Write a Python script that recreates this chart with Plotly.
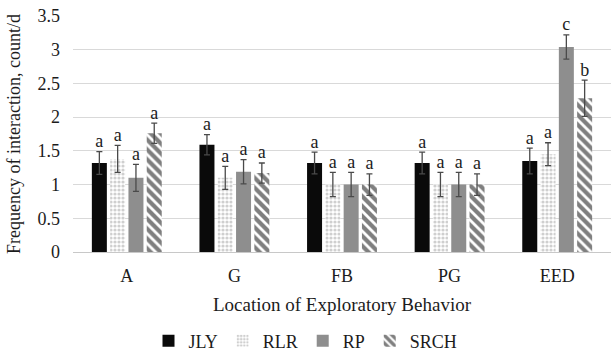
import plotly.graph_objects as go

categories = ["A", "G", "FB", "PG", "EED"]
series_names = ["JLY", "RLR", "RP", "SRCH"]

jly = [1.32, 1.59, 1.32, 1.32, 1.35]
rlr = [1.38, 1.10, 1.00, 1.00, 1.45]
rp = [1.10, 1.19, 1.00, 1.00, 3.04]
srch = [1.76, 1.17, 1.00, 1.00, 2.28]

jly_err = [0.17, 0.15, 0.16, 0.16, 0.19]
rlr_err = [0.20, 0.17, 0.18, 0.18, 0.17]
rp_err = [0.20, 0.18, 0.18, 0.18, 0.18]
srch_err = [0.15, 0.15, 0.16, 0.16, 0.27]

jly_letters = ["a", "a", "a", "a", "a"]
rlr_letters = ["a", "a", "a", "a", "a"]
rp_letters = ["a", "a", "a", "a", "c"]
srch_letters = ["a", "a", "a", "a", "b"]

y_ticks = [0, 0.5, 1, 1.5, 2, 2.5, 3, 3.5]
y_tick_text = ["0", "0.5", "1", "1.5", "2", "2.5", "3", "3.5"]

FONT = "Liberation Serif"
TXT = "#1c1c1c"

values = [jly, rlr, rp, srch]
errors = [jly_err, rlr_err, rp_err, srch_err]
letters = [jly_letters, rlr_letters, rp_letters, srch_letters]

styles = [
    dict(color="#0a0a0a", pattern=dict(shape="")),
    dict(color="#ffffff", pattern=dict(shape=".", fgcolor="#a0a0a0", bgcolor="#ffffff", size=4, solidity=0.5, fillmode="overlay")),
    dict(color="#8e8e8e", pattern=dict(shape="")),
    dict(color="#ffffff", pattern=dict(shape="\\", fgcolor="#000000", bgcolor="#ffffff", size=7, solidity=0.6, fillmode="overlay")),
]

fig = go.Figure()
for name, vals, errs, st in zip(series_names, values, errors, styles):
    fig.add_trace(go.Bar(
        x=categories, y=vals, name=name, offsetgroup=name,
        marker=dict(color=st["color"], pattern=st["pattern"], line=dict(width=0)),
        error_y=dict(type="data", array=errs, visible=True, color="#4a4a4a", thickness=1.3, width=3),
    ))

for name, vals, errs, lts in zip(series_names, values, errors, letters):
    fig.add_trace(go.Scatter(
        x=categories, y=[v + e for v, e in zip(vals, errs)], mode="text",
        text=lts, textposition="top center", offsetgroup=name,
        textfont=dict(family=FONT, size=18, color=TXT),
        showlegend=False, hoverinfo="skip", cliponaxis=False,
    ))

fig.update_layout(
    width=611, height=352,
    margin=dict(l=73, r=0, t=16, b=100),
    paper_bgcolor="white", plot_bgcolor="white",
    barmode="group", bargap=0.32, bargroupgap=0.18,
    scattermode="group", scattergap=0.32,
    font=dict(family=FONT, size=18, color=TXT),
    legend=dict(orientation="h", xref="container", x=0.5, xanchor="center",
                yref="container", y=1 - 341 / 352, yanchor="middle",
                font=dict(family=FONT, size=18, color=TXT), itemwidth=30,
                tracegroupgap=0, bgcolor="rgba(0,0,0,0)"),
    showlegend=True,
)
fig.update_xaxes(
    showline=True, linecolor="#c8c8c8", linewidth=1,
    tickfont=dict(family=FONT, size=18, color=TXT),
    title=dict(text="Location of Exploratory Behavior", font=dict(family=FONT, size=19, color=TXT), standoff=13),
    ticks="", ticklabelstandoff=7, automargin=False,
)
fig.update_yaxes(
    range=[0, 3.5], tickvals=y_ticks, ticktext=y_tick_text,
    showgrid=True, gridcolor="#d9d9d9", gridwidth=1, zeroline=False,
    tickfont=dict(family=FONT, size=18, color=TXT),
    title=dict(text="Frequency of interaction, count/d", font=dict(family=FONT, size=18, color=TXT), standoff=12),
    ticks="", ticklabelstandoff=12, automargin=False,
)

fig.write_html("out.html", config={"displayModeBar": False},
               post_script="document.body.style.margin='0';")
